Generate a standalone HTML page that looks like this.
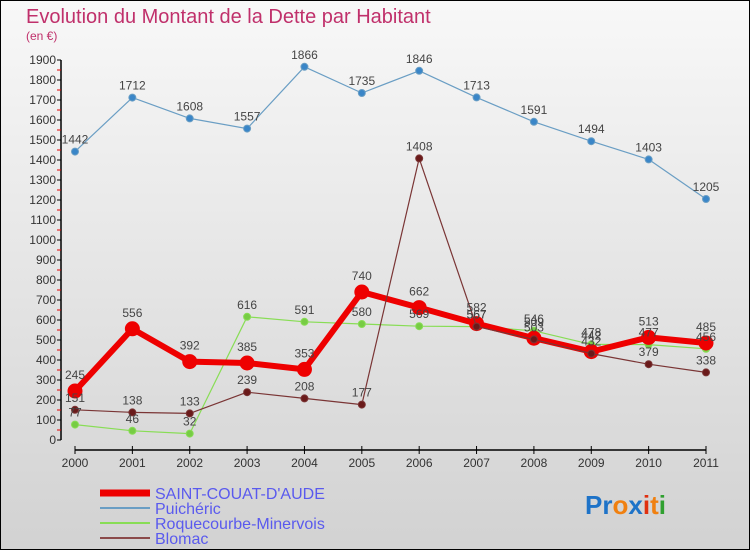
<!DOCTYPE html>
<html><head><meta charset="utf-8"><style>
body{margin:0;width:750px;height:550px;overflow:hidden;font-family:"Liberation Sans",sans-serif}
svg text{font-family:"Liberation Sans",sans-serif}
</style></head><body>
<svg id="chart" width="750" height="550" xmlns="http://www.w3.org/2000/svg">
<defs><linearGradient id="bg" x1="0" y1="0" x2="0" y2="1"><stop offset="0" stop-color="#f8f8f8"/><stop offset="1" stop-color="#d2d2d2"/></linearGradient></defs>
<rect x="0.5" y="0.5" width="749" height="549" fill="url(#bg)" stroke="#000"/>
<text x="26" y="23" font-size="20" fill="#c0306b">Evolution du Montant de la Dette par Habitant</text>
<text x="26" y="40" font-size="12" fill="#c0306b">(en €)</text>
<g id="axes"></g><g id="series"></g><g id="labels"></g>
<g font-size="16" fill="#5555ee">
<line x1="100" y1="493" x2="150" y2="493" stroke="#ee0000" stroke-width="7"/><text x="155" y="499" fill="#5a5aee">SAINT-COUAT-D'AUDE</text>
<line x1="100" y1="508" x2="150" y2="508" stroke="#6a9ec4" stroke-width="2"/><text x="155" y="514" fill="#5a5aee">Puichéric</text>
<line x1="100" y1="523" x2="150" y2="523" stroke="#88dd55" stroke-width="2"/><text x="155" y="529" fill="#5a5aee">Roquecourbe-Minervois</text>
<line x1="100" y1="538" x2="150" y2="538" stroke="#8b4a4a" stroke-width="2"/><text x="155" y="544" fill="#5a5aee">Blomac</text>
</g>
<text x="585" y="514" font-size="26" font-weight="bold"><tspan fill="#1e73c8">Pr</tspan><tspan fill="#f08010">o</tspan><tspan fill="#1e73c8">x</tspan><tspan fill="#e03010">i</tspan><tspan fill="#f08010">t</tspan><tspan fill="#30a030">i</tspan></text>
</svg>
<script>
const years=[2000,2001,2002,2003,2004,2005,2006,2007,2008,2009,2010,2011];
const saint=[245,556,392,385,353,740,662,582,509,442,513,485];
const puicheric=[1442,1712,1608,1557,1866,1735,1846,1713,1591,1494,1403,1205];
const roque=[77,46,32,616,591,580,569,567,546,478,477,456];
const blomac=[151,138,133,239,208,177,1408,567,503,432,379,338];
const yTicks=[0,100,200,300,400,500,600,700,800,900,1000,1100,1200,1300,1400,1500,1600,1700,1800,1900];
const NS="http://www.w3.org/2000/svg";
const x=i=>75+i*(706-75)/(years.length-1);
const y=v=>440-v*(380/1900);
function mk(tag,attrs,parent,txt){const e=document.createElementNS(NS,tag);for(const k in attrs)e.setAttribute(k,attrs[k]);if(txt!==undefined)e.textContent=txt;parent.appendChild(e);return e;}
const ax=document.getElementById('axes');
let a=mk('line',{x1:61,y1:y(0),x2:61,y2:y(1900),stroke:'#000','stroke-width':1.5},ax);


yTicks.forEach(t=>{
 mk('line',{x1:57,x2:61,y1:y(t),y2:y(t),stroke:'#000'},ax);
 if(t<1900)mk('line',{x1:57,x2:61,y1:y(t+50),y2:y(t+50),stroke:'#e00000'},ax);
 const l=mk('text',{x:56,y:y(t)+4,'font-size':12,'text-anchor':'end',fill:'#333'},ax,t);
 
 
});
a=mk('line',{x1:75,y1:450,x2:706,y2:450,stroke:'#000','stroke-width':1.5},ax);


years.forEach((yr,i)=>{
 mk('line',{x1:x(i),x2:x(i),y1:446,y2:454,stroke:'#000'},ax);
 const l=mk('text',{x:x(i),y:467,'font-size':12,'text-anchor':'middle',fill:'#333'},ax,yr);
 
 
});
const sg=document.getElementById('series'),lg=document.getElementById('labels');
function series(name,vals,color,dot,w,r,labelDy){
 const g=mk('g',{},sg);
 
 
 const p=mk('polyline',{points:vals.map((v,i)=>x(i)+','+y(v)).join(' '),fill:'none',stroke:color,'stroke-width':w,'stroke-linejoin':'round'},g);
 
 
 vals.forEach((v,i)=>{
  const c=mk('circle',{cx:x(i),cy:y(v),r:r,fill:dot,stroke:color,'stroke-width':1},g);
  
  
  const t=mk('text',{x:x(i),y:y(v)+labelDy,'font-size':12,'text-anchor':'middle',fill:'#444'},lg,v);
  
  
 });
}
series('puicheric-series',puicheric,'#6a9ec4','#3a86c8',1.2,3.5,-8);
series('roquecourbe-series',roque,'#88dd55','#77cc44',1.2,3.5,-8);
series('saint-couat-series',saint,'#ee0000','#ee0000',6,7,-12);
series('blomac-series',blomac,'#7a3535','#6a1a1a',1.2,3.5,-8);
</script>
</body></html>
